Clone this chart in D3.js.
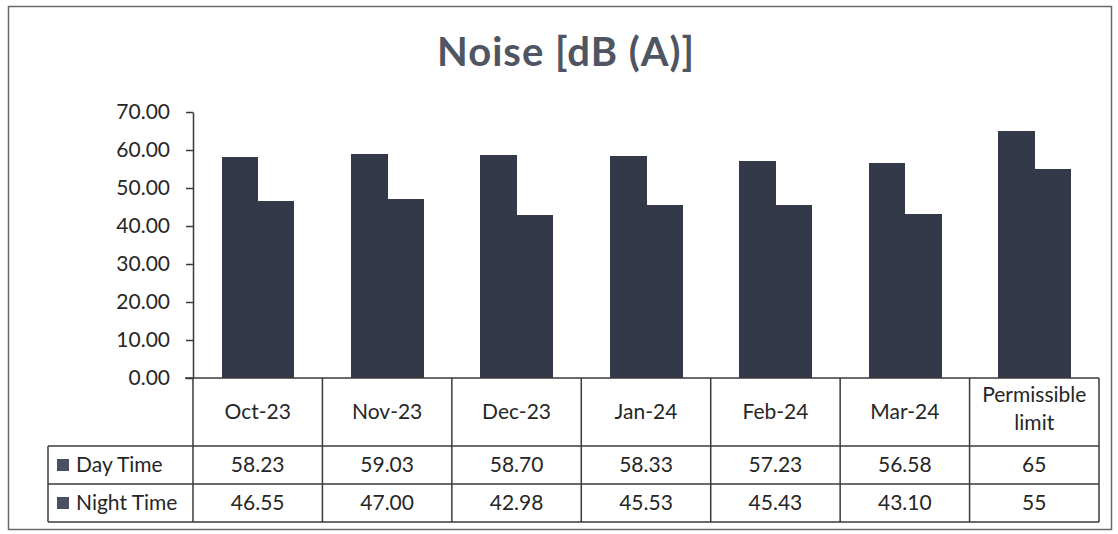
<!DOCTYPE html>
<html>
<head>
<meta charset="utf-8">
<script src="https://cdn.jsdelivr.net/npm/d3@7"></script>
<style>
  body { margin: 0; background: #fff; }
  svg { display: block; font-family: Lato, "Open Sans", sans-serif; }
</style>
</head>
<body>
<div id="chart"></div>
<script>
const categories = ["Oct-23", "Nov-23", "Dec-23", "Jan-24", "Feb-24", "Mar-24", "Permissible limit"];
const dayTime = [58.23, 59.03, 58.70, 58.33, 57.23, 56.58, 65];
const nightTime = [46.55, 47.00, 42.98, 45.53, 45.43, 43.10, 55];
const dayLabels = ["58.23", "59.03", "58.70", "58.33", "57.23", "56.58", "65"];
const nightLabels = ["46.55", "47.00", "42.98", "45.53", "45.43", "43.10", "55"];
const seriesNames = ["Day Time", "Night Time"];
const yTicks = [0, 10, 20, 30, 40, 50, 60, 70];

const width = 1118, height = 534;
const plot = { left: 193, right: 1099, top: 112, bottom: 378 };
const rowH = [68, 38, 38];
const legendLeft = 48;
const fontSize = 21;
const barColor = "#343949";
const textColor = "#262626";
const lineColor = "#3a3a3a";

const svg = d3.select("#chart").append("svg")
  .attr("width", width)
  .attr("height", height);

// outer chart border
svg.append("rect")
  .attr("x", 8.5).attr("y", 6.5)
  .attr("width", 1103).attr("height", 523)
  .attr("fill", "none")
  .attr("stroke", "#6a6a6a")
  .attr("stroke-width", 1.5);

svg.append("text")
  .attr("x", 566).attr("y", 66)
  .attr("text-anchor", "middle")
  .attr("font-size", 40)
  .attr("font-weight", "bold")
  .attr("letter-spacing", 1)
  .attr("fill", "#4f5563")
  .text("Noise [dB (A)]");

const x = d3.scaleBand()
  .domain(categories)
  .range([plot.left, plot.right]);

const xInner = d3.scaleBand()
  .domain(seriesNames)
  .range([0, x.bandwidth()])
  .paddingOuter(0.79);

const y = d3.scaleLinear()
  .domain([0, 70])
  .range([plot.bottom, plot.top]);

// bars
const groups = svg.append("g").selectAll("g")
  .data(categories)
  .join("g")
  .attr("transform", d => `translate(${x(d)},0)`);

groups.selectAll("rect")
  .data((d, i) => [{ s: seriesNames[0], v: dayTime[i] }, { s: seriesNames[1], v: nightTime[i] }])
  .join("rect")
  .attr("x", d => xInner(d.s))
  .attr("width", xInner.bandwidth() + 0.5)
  .attr("y", d => y(d.v))
  .attr("height", d => y(0) - y(d.v))
  .attr("fill", barColor)
  .attr("shape-rendering", "crispEdges");

// y axis
const yAxis = svg.append("g")
  .attr("transform", `translate(${plot.left},0)`)
  .call(d3.axisLeft(y).tickValues(yTicks).tickFormat(d3.format(".2f")).tickSize(7).tickSizeOuter(0));
yAxis.select(".domain").attr("stroke", lineColor).attr("stroke-width", 1.5);
yAxis.selectAll(".tick line").attr("stroke", lineColor).attr("stroke-width", 1.5);
yAxis.selectAll(".tick text")
  .attr("x", -23)
  .attr("font-size", fontSize)
  .attr("font-family", "Lato, sans-serif")
  .attr("fill", textColor);

// data table
const t0 = plot.bottom;
const t1 = t0 + rowH[0];
const t2 = t1 + rowH[1];
const t3 = t2 + rowH[2];
const grid = svg.append("g")
  .attr("stroke", lineColor)
  .attr("stroke-width", 1.5)
  .attr("fill", "none");

// horizontal lines
grid.append("line").attr("x1", plot.left - 8).attr("x2", plot.right).attr("y1", t0).attr("y2", t0);
[t1, t2, t3].forEach(v => {
  grid.append("line").attr("x1", legendLeft).attr("x2", plot.right).attr("y1", v).attr("y2", v);
});

// vertical lines
const edges = categories.map(c => x(c)).concat([plot.right]);
grid.selectAll("line.v")
  .data(edges)
  .join("line")
  .attr("class", "v")
  .attr("x1", d => d).attr("x2", d => d)
  .attr("y1", t0).attr("y2", t3);
grid.append("line").attr("x1", legendLeft).attr("x2", legendLeft).attr("y1", t1).attr("y2", t3);

// header labels
const headers = svg.append("g")
  .attr("font-size", fontSize)
  .attr("fill", textColor)
  .attr("text-anchor", "middle");

categories.forEach(c => {
  const cx = x(c) + x.bandwidth() / 2;
  const words = c === "Permissible limit" ? ["Permissible", "limit"] : [c];
  const txt = headers.append("text").attr("x", cx);
  if (words.length === 1) {
    txt.attr("y", (t0 + t1) / 2 + 7).text(c);
  } else {
    words.forEach((w, k) => {
      txt.append("tspan").attr("x", cx).attr("y", t0 + 24 + k * 28).text(w);
    });
  }
});

// value rows
const rows = [
  { name: seriesNames[0], labels: dayLabels, top: t1 },
  { name: seriesNames[1], labels: nightLabels, top: t2 }
];
rows.forEach(r => {
  const cy = r.top + rowH[1] / 2;
  svg.append("rect")
    .attr("x", 57).attr("y", cy - 6)
    .attr("width", 12).attr("height", 12)
    .attr("fill", "#4a4f63");
  svg.append("text")
    .attr("x", 76).attr("y", cy + 7)
    .attr("font-size", fontSize)
    .attr("fill", textColor)
    .text(r.name);
  svg.append("g").selectAll("text")
    .data(r.labels)
    .join("text")
    .attr("x", (d, i) => x(categories[i]) + x.bandwidth() / 2)
    .attr("y", cy + 7)
    .attr("text-anchor", "middle")
    .attr("font-size", fontSize)
    .attr("fill", textColor)
    .text(d => d);
});
</script>
</body>
</html>
